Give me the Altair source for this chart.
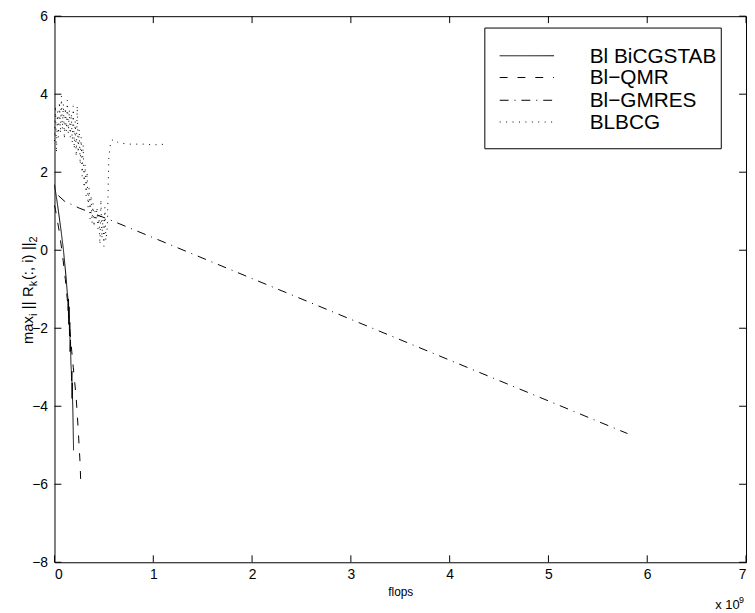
import altair as alt
import pandas as pd

# ---------------- data ----------------
series_names = ["Bl BiCGSTAB", "Bl\u2212QMR", "Bl\u2212GMRES", "BLBCG"]

bicg_x = [0.0, 0.02, 0.04, 0.067, 0.09, 0.117, 0.128, 0.135, 0.138, 0.142, 0.145, 0.148,
          0.152, 0.155, 0.158, 0.162, 0.166, 0.170, 0.173, 0.176, 0.178, 0.180, 0.182,
          0.186, 0.193]
bicg_y = [1.68, 1.35, 1.00, 0.49, 0.02, -0.69, -1.05, -1.20, -1.55, -1.25, -1.90, -1.45,
          -2.20, -1.85, -2.60, -2.30, -2.90, -3.05, -3.35, -3.10, -3.80, -3.40, -3.75,
          -4.10, -5.13]

qmr_x = [0.0, 0.01, 0.03, 0.05, 0.08, 0.11, 0.135, 0.155, 0.175, 0.19, 0.205, 0.217,
         0.227, 0.24, 0.25, 0.26, 0.267]
qmr_y = [1.15, 1.04, 0.75, 0.45, -0.10, -0.75, -1.40, -2.00, -2.60, -3.00, -3.40, -3.70,
         -4.07, -4.60, -5.05, -5.50, -6.08]

gmres_x = [0.04, 0.10, 0.25, 0.55, 1.0, 5.8]
gmres_y = [1.40, 1.26, 1.08, 0.79, 0.32, -4.70]

blbcg_x = [0.00, 0.01, 0.02, 0.03, 0.04, 0.05, 0.06, 0.07, 0.08, 0.09, 0.10, 0.11, 0.12,
           0.13, 0.14, 0.15, 0.16, 0.17, 0.18, 0.19, 0.20, 0.21, 0.22, 0.23, 0.24, 0.25,
           0.26, 0.27, 0.28, 0.29, 0.30, 0.31, 0.32, 0.33, 0.34, 0.35, 0.36, 0.37, 0.38,
           0.39, 0.40, 0.41, 0.42, 0.43, 0.44, 0.45, 0.46, 0.47, 0.48, 0.49, 0.50, 0.51,
           0.52, 0.535, 0.55, 0.57, 0.60, 0.65, 0.75, 0.90, 1.00, 1.13]
blbcg_y = [2.80, 3.70, 2.50, 3.55, 2.90, 3.80, 3.00, 3.95, 3.10, 3.75, 2.85, 3.65, 3.05,
           3.85, 3.00, 3.60, 2.90, 3.50, 2.75, 3.70, 2.60, 3.30, 2.40, 3.70, 2.50, 3.10,
           2.20, 2.90, 1.90, 2.70, 1.60, 2.20, 1.40, 2.00, 1.10, 1.60, 0.80, 1.40, 0.70,
           1.20, 0.60, 1.00, 0.75, 1.10, 0.55, 0.90, 0.15, 1.30, 0.30, 0.80, 0.10, 1.10,
           0.25, 0.60, 2.40, 2.80, 2.84, 2.75, 2.72, 2.72, 2.70, 2.72]

x_tick_values = [0, 1, 2, 3, 4, 5, 6, 7]
y_tick_values = [-8, -6, -4, -2, 0, 2, 4, 6]

# y-axis title pieces: (text, is_subscript, trailing gap in em of main font)
ytitle_pieces = [("max", False, 0.0), ("i", True, 0.3), ("||", False, 0.3),
                 ("R", False, 0.0), ("k", True, 0.05), ("(:, i)", False, 0.3),
                 ("||", False, 0.0), ("2", True, 0.0)]

dash_patterns = [[1, 0], [8, 10], [9, 6, 1, 6], [1, 5.5]]

# ---------------- layout constants ----------------
W, H = 699, 552
FONT = "Liberation Sans"

rows = []
for name, xs, ys in zip(series_names, [bicg_x, qmr_x, gmres_x, blbcg_x],
                        [bicg_y, qmr_y, gmres_y, blbcg_y]):
    for i, (a, b) in enumerate(zip(xs, ys)):
        rows.append({"series": name, "x": a, "y": b, "order": i})
df = pd.DataFrame(rows)

xscale = alt.Scale(domain=[0, 7], nice=False, zero=False)
yscale = alt.Scale(domain=[-8, 6], nice=False, zero=False)

lines = alt.Chart(df).mark_line(color="black", strokeWidth=1).encode(
    x=alt.X("x:Q", scale=xscale,
            axis=alt.Axis(values=x_tick_values, title="flops", ticks=False, domain=False,
                          grid=False, labelFontSize=14, labelPadding=5, labelFont=FONT,
                          labelColor="black", titleFont=FONT, titleFontSize=12,
                          titleFontWeight="normal", titlePadding=6, titleColor="black",
                          format="d")),
    y=alt.Y("y:Q", scale=yscale,
            axis=alt.Axis(values=y_tick_values, title=None, ticks=False, domain=False,
                          grid=False, labelFontSize=14, labelPadding=7, labelFont=FONT,
                          labelColor="black", format="d")),
    detail="series:N",
    order="order:Q",
    strokeDash=alt.StrokeDash("series:N",
                              scale=alt.Scale(domain=series_names, range=dash_patterns),
                              legend=None),
)

xt = pd.DataFrame({"x": x_tick_values})
yt = pd.DataFrame({"y": y_tick_values})
tick_len = 7
xb = alt.Chart(xt).mark_rule(color="black", strokeWidth=1).encode(
    x=alt.X("x:Q", scale=xscale), y=alt.value(H), y2=alt.value(H - tick_len))
xtop = alt.Chart(xt).mark_rule(color="black", strokeWidth=1).encode(
    x=alt.X("x:Q", scale=xscale), y=alt.value(0), y2=alt.value(tick_len))
yl = alt.Chart(yt).mark_rule(color="black", strokeWidth=1).encode(
    y=alt.Y("y:Q", scale=yscale), x=alt.value(0), x2=alt.value(tick_len))
yr = alt.Chart(yt).mark_rule(color="black", strokeWidth=1).encode(
    y=alt.Y("y:Q", scale=yscale), x=alt.value(W), x2=alt.value(W - tick_len))

one = alt.Data(values=[{"k": 1}])

legend_box = alt.Chart(one).mark_rect(fill="white", stroke="black", strokeWidth=1).encode(
    x=alt.value(435), x2=alt.value(674), y=alt.value(12), y2=alt.value(134))

legend_layers = [legend_box]
row_y = [40, 62, 85, 107]
for name, dash, ry in zip(series_names, dash_patterns, row_y):
    legend_layers.append(
        alt.Chart(one).mark_rule(color="black", strokeWidth=1, strokeDash=dash).encode(
            x=alt.value(450), x2=alt.value(505), y=alt.value(ry)))
    legend_layers.append(
        alt.Chart(one).mark_text(align="left", baseline="middle", fontSize=21, font=FONT,
                                 color="black").encode(
            x=alt.value(541), y=alt.value(ry + 1), text=alt.value(name)))

# rotated y title built from pieces (Arial-like advance widths)
ADV = {"m": 0.833, "a": 0.556, "x": 0.5, "i": 0.222, " ": 0.278, "|": 0.26, "R": 0.722,
       "k": 0.5, "(": 0.333, ")": 0.333, ":": 0.278, ",": 0.278, "2": 0.556}
MAIN_FS, SUB_FS = 15, 11
steps = [sum(ADV[c] for c in t) * (SUB_FS if s else MAIN_FS) + g * MAIN_FS
         for t, s, g in ytitle_pieces]
total = sum(steps)
center_y, base_x = 277, -22
pos = center_y + total / 2
ytitle_layers = []
for (t, s, g), w in zip(ytitle_pieces, steps):
    ytitle_layers.append(
        alt.Chart(one).mark_text(angle=270, align="left", baseline="alphabetic",
                                 fontSize=SUB_FS if s else MAIN_FS, font=FONT,
                                 color="black").encode(
            x=alt.value(base_x + (4 if s else 0)), y=alt.value(pos), text=alt.value(t)))
    pos -= w

x10 = alt.Chart(one).mark_text(align="left", baseline="alphabetic", fontSize=13, font=FONT,
                               color="black").encode(
    x=alt.value(668), y=alt.value(599), text=alt.value("x 10"))
x10e = alt.Chart(one).mark_text(align="left", baseline="alphabetic", fontSize=9, font=FONT,
                                color="black").encode(
    x=alt.value(692), y=alt.value(593), text=alt.value("9"))

chart = alt.layer(lines, xb, xtop, yl, yr, *legend_layers, *ytitle_layers, x10,
                  x10e).properties(
    width=W, height=H,
    autosize=alt.AutoSizeParams(type="none"),
    padding={"left": 47, "top": 5, "right": 1, "bottom": 48},
    background="white",
).configure_view(stroke="black", strokeWidth=1)

chart.save("out.html", embed_options={"renderer": "svg", "actions": False})
